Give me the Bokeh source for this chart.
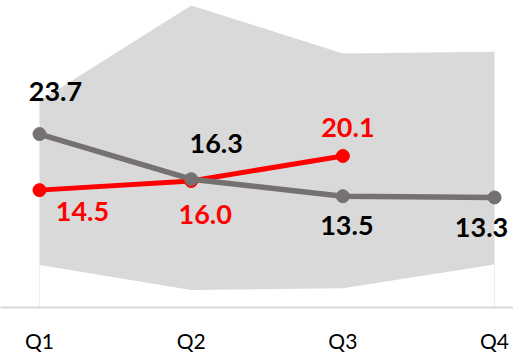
from bokeh.plotting import figure
from bokeh.models import ColumnDataSource, Range1d, FixedTicker
from bokeh.core.properties import value
from bokeh.embed import file_html
from bokeh.resources import INLINE

# ---- data ----
quarters = ["Q1", "Q2", "Q3", "Q4"]
band_low = [2.2, -1.9, -1.6, 2.3]
band_high = [29.1, 44.8, 36.9, 37.2]
gray_values = [23.7, 16.3, 13.5, 13.3]
red_values = [14.5, 16.0, 20.1]

# label offsets (pixels) - layout only
gray_dx = [16, 25, 4, -13]
gray_dy = [-43, -36, 29, 30]
red_dx = [43, 14, 5]
red_dy = [21, 34, -28]

xi = list(range(len(quarters)))
xr = xi[:len(red_values)]

p = figure(width=513, height=355, output_backend="svg", toolbar_location=None,
           x_range=Range1d(-0.257, 3.125), y_range=Range1d(-4.75, 45.6),
           min_border_left=0, min_border_right=0, min_border_top=0, min_border_bottom=0)
p.outline_line_color = None
p.background_fill_color = "white"
p.border_fill_color = "white"
p.xgrid.visible = False
p.ygrid.visible = False
p.yaxis.visible = False

# band
p.varea(x=xi, y1=band_low, y2=band_high, fill_color="#D9D9D9")
# faint edges below band
p.segment(x0=[xi[0], xi[-1]], y0=[-4.75, -4.75], x1=[xi[0], xi[-1]], y1=[band_low[0], band_low[-1]],
          line_color="#EEEEEE", line_width=1)

# red series
red_src = ColumnDataSource(dict(x=xr, y=red_values, t=[f"{v:.1f}" for v in red_values], dx=red_dx, dy=red_dy))
p.line("x", "y", source=red_src, line_color="#FF0000", line_width=5)
p.scatter("x", "y", source=red_src, size=13, fill_color="#FF0000", line_color="#FF0000")

# gray series
gray_src = ColumnDataSource(dict(x=xi, y=gray_values, t=[f"{v:.1f}" for v in gray_values], dx=gray_dx, dy=gray_dy))
p.line("x", "y", source=gray_src, line_color="#767171", line_width=5.5)
p.scatter("x", "y", source=gray_src, size=13, fill_color="#767171", line_color="#767171")

p.text("x", "y", text="t", source=gray_src, x_offset="dx", y_offset="dy",
       text_font=value("Lato"), text_font_style="bold", text_font_size="27px",
       text_color="black", text_align="center", text_baseline="middle")
p.text("x", "y", text="t", source=red_src, x_offset="dx", y_offset="dy",
       text_font=value("Lato"), text_font_style="bold", text_font_size="27px",
       text_color="#FF0000", text_align="center", text_baseline="middle")

ax = p.xaxis[0]
ax.ticker = FixedTicker(ticks=xi)
ax.major_label_overrides = {i: q for i, q in zip(xi, quarters)}
ax.axis_line_color = "#D9D9D9"
ax.axis_line_width = 2
ax.major_tick_line_color = None
ax.minor_tick_line_color = None
ax.major_label_text_font = "Lato"
ax.major_label_text_font_size = "21px"
ax.major_label_text_color = "black"
ax.major_label_standoff = 14

open("out.html", "w").write(file_html(p, INLINE))
